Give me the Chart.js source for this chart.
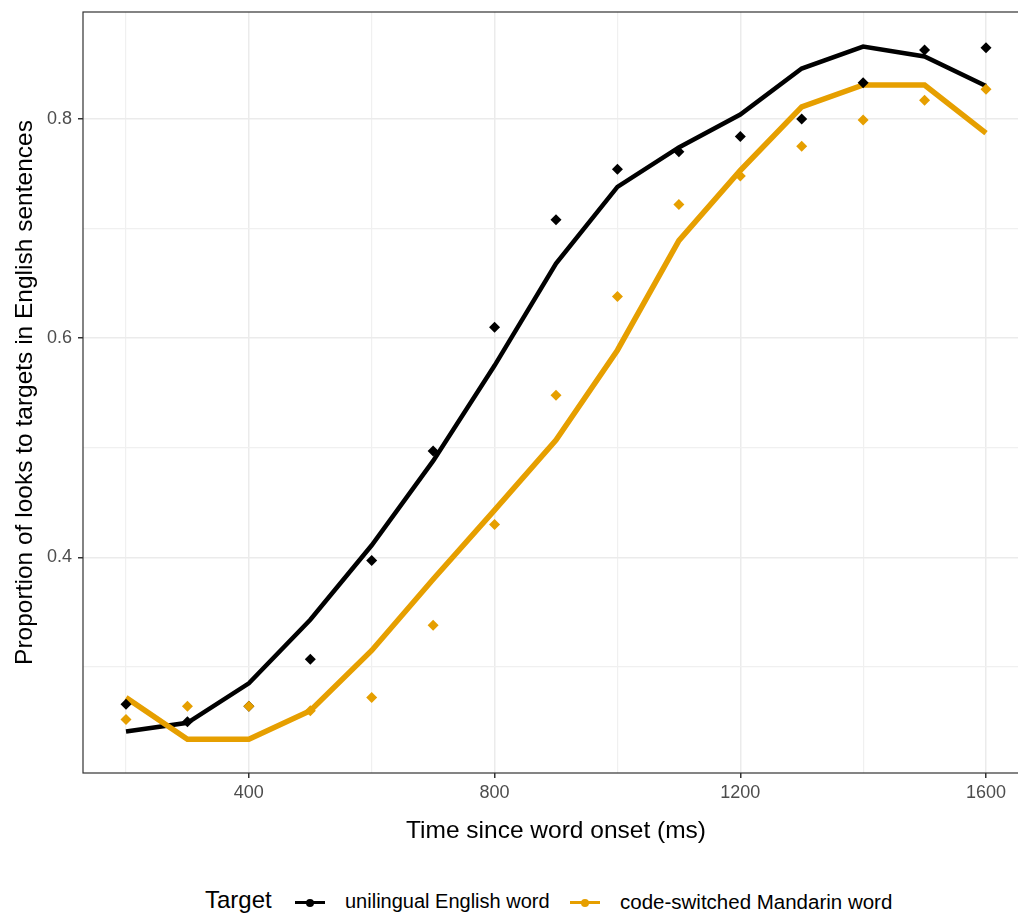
<!DOCTYPE html>
<html><head><meta charset="utf-8">
<script src="https://cdn.jsdelivr.net/npm/chart.js@4/dist/chart.umd.min.js"></script>
<style>
html,body{margin:0;padding:0;background:#fff;overflow:hidden;width:1018px;height:915px;}
#wrap{position:absolute;left:0;top:0;width:1040px;height:860px;}
#legend{position:absolute;top:886px;left:0;width:1018px;height:29px;font-family:"Liberation Sans",Arial,sans-serif;color:#000;}
#legend span{position:absolute;white-space:nowrap;}
.sym{position:absolute;width:30px;height:3px;top:15px;}
.dot{position:absolute;width:8px;height:8px;border-radius:50%;left:11px;top:-2.5px;}
</style></head>
<body>
<div id="wrap"><canvas id="c" width="1040" height="860"></canvas></div>
<div id="legend">
  <span style="left:205px;top:0px;font-size:24px;">Target</span>
  <div class="sym" style="left:295px;background:#000;"><div class="dot" style="background:#000;"></div></div>
  <span style="left:345px;top:4px;font-size:20px;">unilingual English word</span>
  <div class="sym" style="left:570px;background:#E69F00;"><div class="dot" style="background:#E69F00;"></div></div>
  <span style="left:620px;top:4px;font-size:20.5px;">code-switched Mandarin word</span>
</div>
<script>
const times = [200,300,400,500,600,700,800,900,1000,1100,1200,1300,1400,1500,1600];
const englishPoints  = [0.266,0.250,0.264,0.307,0.397,0.497,0.610,0.708,0.754,0.770,0.784,0.800,0.833,0.863,0.865];
const englishFit     = [0.241,0.249,0.285,0.343,0.411,0.488,0.575,0.668,0.738,0.774,0.804,0.846,0.866,0.857,0.830];
const mandarinPoints = [0.252,0.264,0.264,0.260,0.272,0.338,0.430,0.548,0.638,0.722,0.748,0.775,0.799,0.817,0.827];
const mandarinFit    = [0.272,0.234,0.234,0.260,0.315,0.380,0.443,0.507,0.589,0.689,0.753,0.811,0.831,0.831,0.787];
const xTicks = [200,400,600,800,1000,1200,1400,1600];
const xMajor = [400,800,1200,1600];
const yTicks = [0.3,0.4,0.5,0.6,0.7,0.8];
const yMajor = [0.4,0.6,0.8];

const BLACK = '#000000', ORANGE = '#E69F00';
const FONT = '"Liberation Sans", Arial, sans-serif';
const pts = arr => times.map((t,i)=>({x:t,y:arr[i]}));
const isMajor = (list,v) => list.some(m=>Math.abs(m-v)<1e-9);

const borderPlugin = {
  id:'panelBorder',
  afterDraw(chart){
    const a = chart.chartArea, ctx = chart.ctx;
    ctx.save(); ctx.strokeStyle='#333333'; ctx.lineWidth=1.2;
    ctx.strokeRect(a.left, a.top, a.right-a.left, a.bottom-a.top);
    ctx.restore();
  }
};

new Chart(document.getElementById('c'), {
  type:'scatter',
  data:{datasets:[
    {label:'English fit', data:pts(englishFit), showLine:true, borderColor:BLACK, backgroundColor:BLACK, borderWidth:4.5, pointRadius:0, order:3},
    {label:'Mandarin fit', data:pts(mandarinFit), showLine:true, borderColor:ORANGE, backgroundColor:ORANGE, borderWidth:5.5, pointRadius:0, order:2},
    {label:'unilingual English word', data:pts(englishPoints), showLine:false, pointStyle:'rectRot', pointRadius:5.5, borderWidth:0, backgroundColor:BLACK, borderColor:BLACK, order:1},
    {label:'code-switched Mandarin word', data:pts(mandarinPoints), showLine:false, pointStyle:'rectRot', pointRadius:5.5, borderWidth:0, backgroundColor:ORANGE, borderColor:ORANGE, order:0}
  ]},
  options:{
    responsive:false, animation:false,
    layout:{padding:{left:11,right:11,top:12,bottom:0}},
    plugins:{legend:{display:false}, tooltip:{enabled:false}},
    scales:{
      x:{type:'linear', min:130, max:1670,
        afterBuildTicks(s){ s.ticks = xTicks.map(v=>({value:v})); },
        afterFit(s){ s.height = 87; s.paddingLeft = 0; s.paddingRight = 0; },
        grid:{drawOnChartArea:true, color:c=>isMajor(xMajor,c.tick.value)?'#EBEBEB':'#F0F0F0', lineWidth:c=>isMajor(xMajor,c.tick.value)?1.5:1.2,
              tickColor:c=>isMajor(xMajor,c.tick.value)?'#333333':'rgba(0,0,0,0)', tickLength:5, drawTicks:true},
        border:{display:false},
        ticks:{autoSkip:false, maxRotation:0, padding:4, color:'#4D4D4D', font:{family:FONT, size:18},
               callback:v=>isMajor(xMajor,v)?String(v):''},
        title:{display:true, text:'Time since word onset (ms)', color:'#000', font:{family:FONT, size:24.5}, padding:{top:0,bottom:14}}
      },
      y:{type:'linear', min:0.2032, max:0.8976,
        afterBuildTicks(s){ s.ticks = yTicks.map(v=>({value:v})); },
        afterFit(s){ s.width = 72; s.paddingTop = 0; s.paddingBottom = 0; },
        grid:{color:c=>isMajor(yMajor,c.tick.value)?'#EBEBEB':'#F0F0F0', lineWidth:c=>isMajor(yMajor,c.tick.value)?1.5:1.2,
              tickColor:c=>isMajor(yMajor,c.tick.value)?'#333333':'rgba(0,0,0,0)', tickLength:5},
        border:{display:false},
        ticks:{autoSkip:false, padding:6, color:'#4D4D4D', font:{family:FONT, size:18},
               callback:v=>isMajor(yMajor,v)?v.toFixed(1):''},
        title:{display:true, text:'Proportion of looks to targets in English sentences', color:'#000', font:{family:FONT, size:24.5}, padding:{top:0,bottom:0}}
      }
    }
  },
  plugins:[borderPlugin]
});
</script>
</body></html>
